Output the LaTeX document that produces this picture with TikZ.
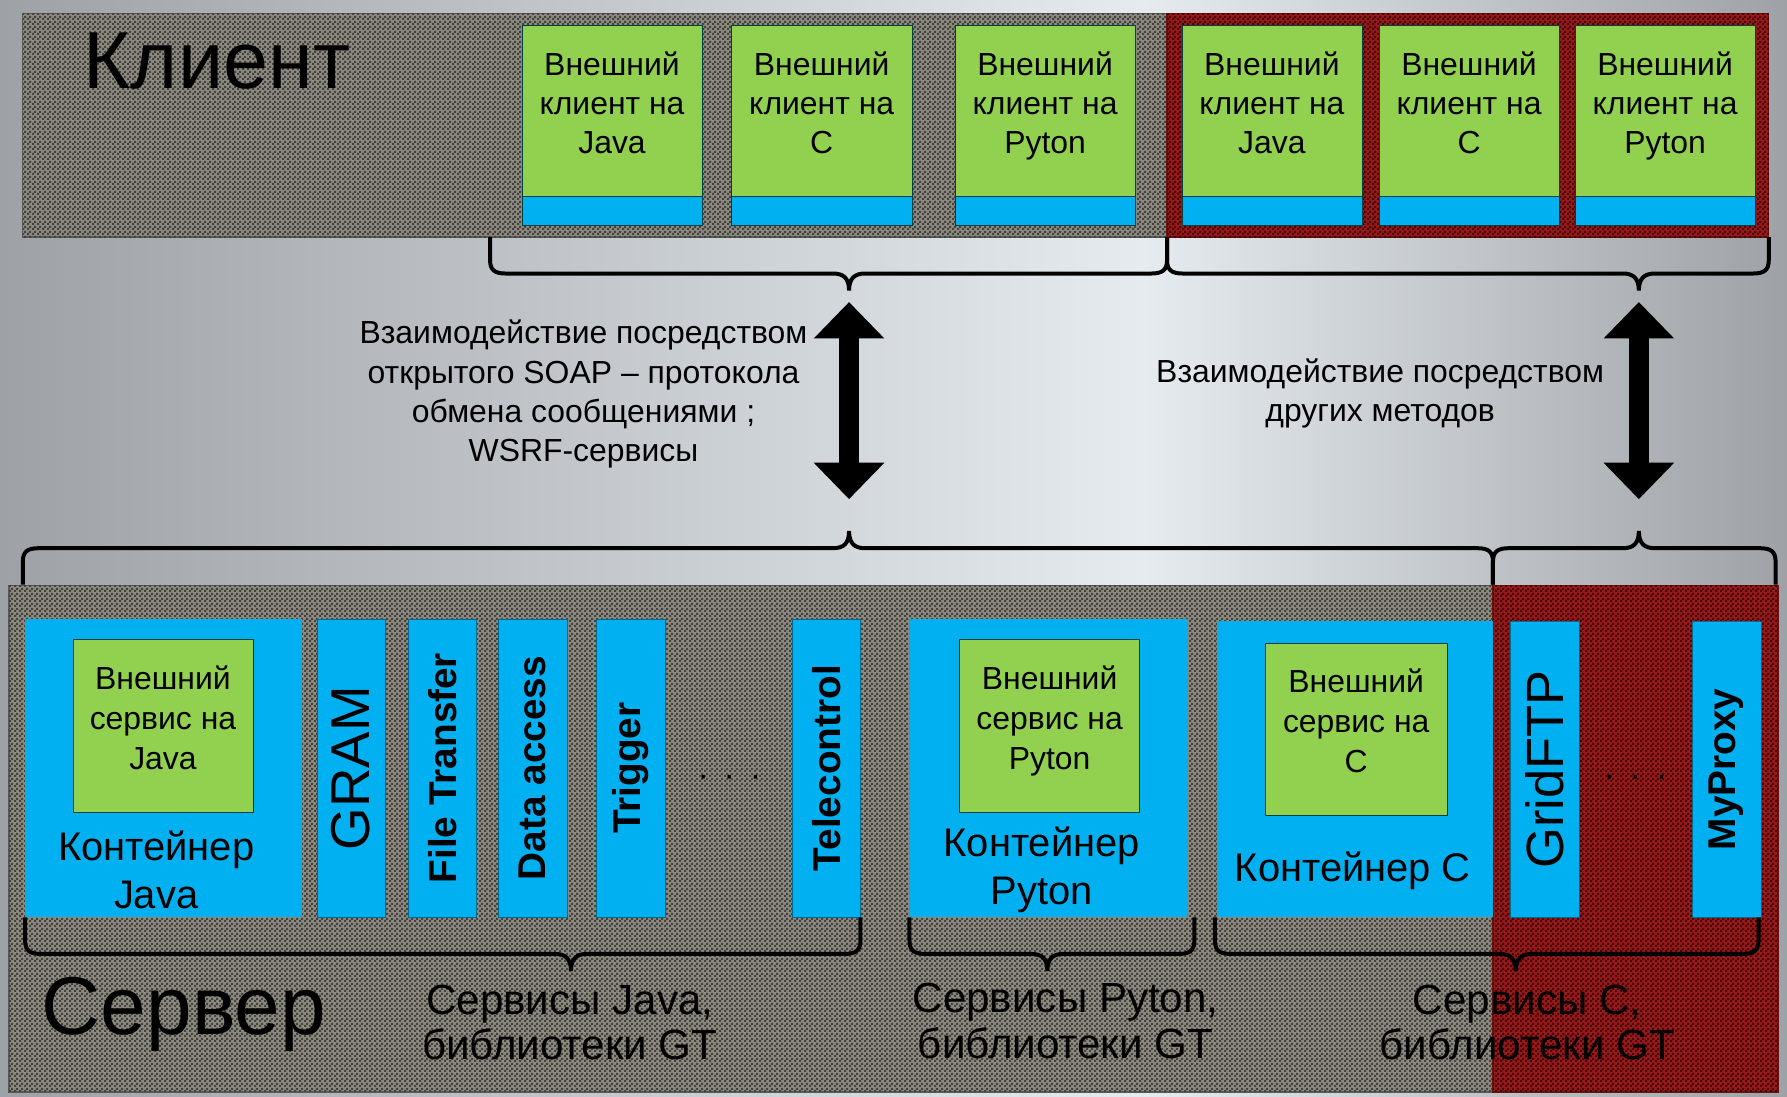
\documentclass[tikz,border=0pt]{standalone}
\usepackage{fontspec}
\setmainfont{Liberation Sans}
\usetikzlibrary{patterns.meta,arrows.meta,positioning}

\definecolor{bgedge}{HTML}{9EA2A6}
\definecolor{bglight}{HTML}{E6EBF0}
\definecolor{panelgray}{HTML}{8C8980}
\definecolor{paneldots}{HTML}{44423C}
\definecolor{panelred}{HTML}{961A1A}
\definecolor{reddots}{HTML}{4A0000}
\definecolor{boxgreen}{HTML}{92D050}
\definecolor{boxblue}{HTML}{00B0F0}
\pgfdeclarehorizontalshading{bgshade}{100bp}{color(0bp)=(bgedge); color(25bp)=(bgedge); color(57bp)=(bglight); color(75bp)=(bgedge); color(100bp)=(bgedge)}
\tikzdeclarepattern{name=checker, type=uncolored,
  bounding box={(0,0) and (4pt,4pt)}, tile size={(4pt,4pt)},
  code={\fill (0,0) rectangle (2pt,2pt); \fill (2pt,2pt) rectangle (4pt,4pt);}}

\newcommand{\fs}[2]{\fontsize{#1}{#2}\selectfont}
% curly brace: left x, right x, tip x, start y, sign (1 down, -1 up), tip name
\newcommand{\curly}[6]{%
  \draw[brace] (#1,#4) -- (#1,{#4+(#5)*20}) .. controls (#1,{#4+(#5)*29}) and ({#1+4},{#4+(#5)*32}) .. ({#1+14},{#4+(#5)*32})
    -- ({#3-14},{#4+(#5)*32}) .. controls ({#3-5},{#4+(#5)*32}) and (#3,{#4+(#5)*36}) .. (#3,{#4+(#5)*47}) coordinate (#6)
    .. controls (#3,{#4+(#5)*36}) and ({#3+5},{#4+(#5)*32}) .. ({#3+14},{#4+(#5)*32})
    -- ({#2-14},{#4+(#5)*32}) .. controls ({#2-4},{#4+(#5)*32}) and (#2,{#4+(#5)*29}) .. (#2,{#4+(#5)*20}) -- (#2,#4);}

\begin{document}
\begin{tikzpicture}[x=1pt,y=-1pt,
	panel/.style={draw=black!65, line width=1.2pt, fill=panelgray, inner sep=0pt, postaction={pattern=checker, pattern color=paneldots}},
	redpanel/.style={draw=panelred!70!black, line width=1.2pt, fill=panelred, inner sep=0pt, postaction={pattern=checker, pattern color=reddots}},
	cbox/.style={draw=teal!50!black, fill=boxgreen, minimum width=158pt, minimum height=150pt, inner sep=0pt, text depth=14pt, align=center, font=\fs{28}{34.5}},
	cstrip/.style={draw=teal!50!black, fill=boxblue, minimum width=158pt, minimum height=25pt, inner sep=0pt},
	cont/.style={fill=boxblue, minimum width=243pt, minimum height=262pt, inner sep=0pt},
	sbox/.style={draw=teal!50!black, fill=boxgreen, minimum width=158pt, minimum height=152pt, inner sep=0pt, text depth=14pt, align=center, font=\fs{28}{35}},
	vstrip/.style={draw=boxblue!60!black, fill=boxblue, rotate=90, minimum width=262pt, minimum height=60pt, inner sep=0pt, font=\bfseries\fs{34}{34}},
	brace/.style={line width=3.5pt, black},
	dbl/.style={line width=18pt, {Triangle[width=60pt,length=32pt]}-{Triangle[width=60pt,length=32pt]}}]

		\path[shading=bgshade] (0,0) rectangle (1568,962);

		% client side
		\node[panel, minimum width=1004pt, minimum height=196pt] (client) at (522,110) {};
		\node[redpanel, minimum width=528pt, minimum height=196pt] (clientext) at (1288,110) {};
		\node[anchor=base west, font=\fs{71}{71}] (clientlbl) at (70,78) {Клиент};

		\node[cbox] (cjava) at (537,97) {Внешний\\клиент на\\Java};
		\node[cstrip, below=0pt of cjava] (cjavab) {};
		\node[cbox] (cc) at (721,97) {Внешний\\клиент на\\C};
		\node[cstrip, below=0pt of cc] (ccb) {};
		\node[cbox] (cpy) at (917,97) {Внешний\\клиент на\\Pyton};
		\node[cstrip, below=0pt of cpy] (cpyb) {};
		\node[cbox] (ojava) at (1116,97) {Внешний\\клиент на\\Java};
		\node[cstrip, below=0pt of ojava] (ojavab) {};
		\node[cbox] (oc) at (1289,97) {Внешний\\клиент на\\C};
		\node[cstrip, below=0pt of oc] (ocb) {};
		\node[cbox] (opy) at (1461,97) {Внешний\\клиент на\\Pyton};
		\node[cstrip, below=0pt of opy] (opyb) {};

		% server side
		\node[panel, minimum width=1302pt, minimum height=444pt] (server) at (659,736) {};
		\node[redpanel, minimum width=250pt, minimum height=444pt] (serverext) at (1435,736) {};
		\node[anchor=base west, font=\fs{72}{72}] (serverlbl) at (33,908) {Сервер};

		\node[cont] (kjava) at (143.5,674) {};
		\node[sbox] (sjava) at (143,637) {Внешний\\сервис на\\Java};
		\node[align=center, font=\fs{35}{42}] (kjavalbl) at (137,763) {Контейнер\\Java};
		\node[vstrip, font=\fs{48}{48}] (gram) at (308,674) {GRAM};
		\node[vstrip] (ftrans) at (388,674) {File Transfer};
		\node[vstrip] (dacc) at (467.5,674) {Data access};
		\node[vstrip] (trig) at (553.5,674) {Trigger};
		\node[font=\fs{30}{30}] (jdots) at (640,685) {·\hspace{13pt}·\hspace{13pt}·};
		\node[vstrip] (tele) at (725,674) {Telecontrol};

		\node[cont, minimum width=244pt] (kpy) at (920,674) {};
		\node[sbox] (spy) at (921,637) {Внешний\\сервис на\\Pyton};
		\node[align=center, font=\fs{35}{42}] (kpylbl) at (914,763) {Контейнер\\Pyton};

		\node[cont, minimum width=242pt, minimum height=260pt] (kc) at (1189,675) {};
		\node[sbox, minimum width=160pt, minimum height=151pt] (sc) at (1190,639.5) {Внешний\\сервис на\\C};
		\node[font=\fs{35}{42}] (kclbl) at (1187,764) {Контейнер C};

		\node[vstrip, minimum width=260pt, font=\fs{46}{46}] (gftp) at (1355.5,675) {GridFTP};
		\node[font=\fs{30}{30}] (cdots) at (1435,685) {·\hspace{13pt}·\hspace{13pt}·};
		\node[vstrip, minimum width=260pt] (myproxy) at (1515,675) {MyProxy};

		\node[align=center, font=\fs{37}{40}] (javasvc) at (500,897) {Сервисы Java,\\библиотеки GT};
		\node[align=center, font=\fs{37}{40}] (pysvc) at (935,896) {Сервисы Pyton,\\библиотеки GT};
		\node[align=center, font=\fs{37}{40}] (csvc) at (1340,897) {Сервисы C,\\библиотеки GT};

		% braces
		\curly{430}{1024}{745}{208}{1}{tl}
		\curly{1024}{1552}{1438}{208}{1}{tr}
		\curly{20}{1310}{745}{513}{-1}{bl}
		\curly{1310}{1558}{1438}{513}{-1}{br}
		\curly{22}{755}{501}{805}{1}{jb}
		\curly{798}{1048}{919}{805}{1}{pb}
		\curly{1066}{1543}{1330}{805}{1}{cb}

		% interaction
		\draw[dbl, shorten <=10pt, shorten >=28pt] (tl) -- (bl);
		\draw[dbl, shorten <=10pt, shorten >=28pt] (tr) -- (br);
		\node[align=center, font=\fs{28}{34.5}] (soaptxt) at (512,346) {Взаимодействие посредством\\открытого SOAP – протокола\\обмена сообщениями ;\\WSRF-сервисы};
		\node[align=center, font=\fs{28}{34.5}] (othertxt) at (1211,345) {Взаимодействие посредством\\других методов};
	\end{tikzpicture}
\end{document}
